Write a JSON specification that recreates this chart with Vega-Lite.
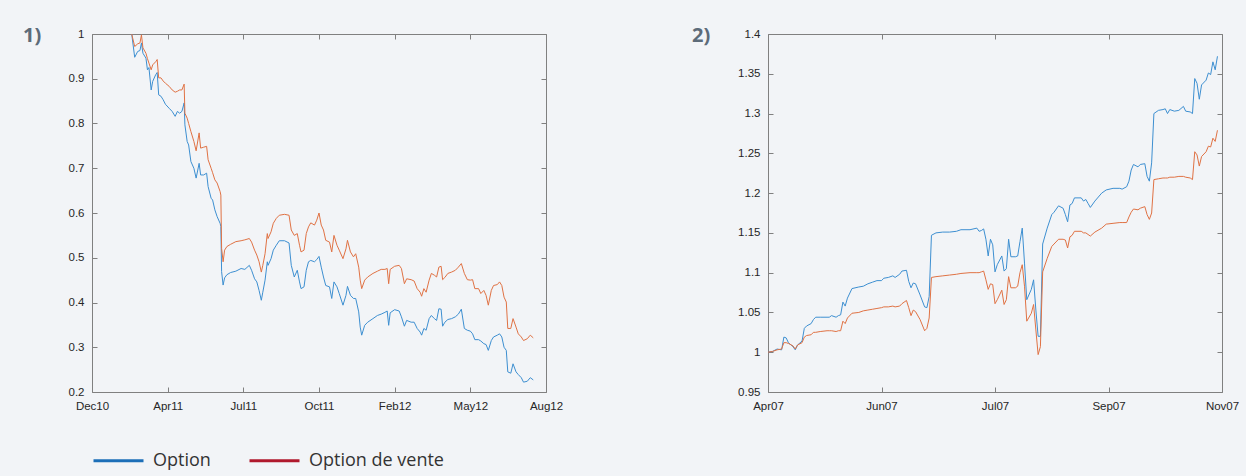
{
  "$schema": "https://vega.github.io/schema/vega-lite/v6.json",
  "background": "#f2f4f7",
  "padding": {"left": 23, "top": 26, "right": 8, "bottom": 7},
  "config": {
    "font": "Liberation Sans",
    "view": {"stroke": null},
    "axis": {
      "grid": false,
      "title": null,
      "domainColor": "#808080",
      "tickColor": "#808080",
      "domainWidth": 1,
      "tickWidth": 1,
      "tickSize": -5,
      "labelColor": "#262626",
      "labelFont": "Liberation Sans",
      "labelFontSize": 11.5,
      "labelFlush": false,
      "labelOverlap": false
    },
    "title": {"font": "Open Sans", "fontWeight": "bold", "fontSize": 20, "color": "#5d6b79"}
  },
  "datasets": {
    "gauche": [
      {"d": "2011-02-22", "Option": 1.000, "Option de vente": 1.000},
      {"d": "2011-02-26", "Option": 0.948, "Option de vente": 0.972},
      {"d": "2011-03-02", "Option": 0.961, "Option de vente": 0.978},
      {"d": "2011-03-05", "Option": 0.963, "Option de vente": 0.980},
      {"d": "2011-03-07", "Option": 0.980, "Option de vente": 0.998},
      {"d": "2011-03-09", "Option": 0.957, "Option de vente": 0.969},
      {"d": "2011-03-13", "Option": 0.946, "Option de vente": 0.957},
      {"d": "2011-03-15", "Option": 0.920, "Option de vente": 0.945},
      {"d": "2011-03-17", "Option": 0.925, "Option de vente": 0.935},
      {"d": "2011-03-20", "Option": 0.875, "Option de vente": 0.920},
      {"d": "2011-03-22", "Option": 0.894, "Option de vente": 0.931},
      {"d": "2011-03-26", "Option": 0.909, "Option de vente": 0.938},
      {"d": "2011-03-28", "Option": 0.914, "Option de vente": 0.943},
      {"d": "2011-03-30", "Option": 0.864, "Option de vente": 0.902},
      {"d": "2011-04-02", "Option": 0.861, "Option de vente": 0.902},
      {"d": "2011-04-05", "Option": 0.853, "Option de vente": 0.895},
      {"d": "2011-04-08", "Option": 0.843, "Option de vente": 0.890},
      {"d": "2011-04-13", "Option": 0.834, "Option de vente": 0.883},
      {"d": "2011-04-17", "Option": 0.827, "Option de vente": 0.875},
      {"d": "2011-04-21", "Option": 0.816, "Option de vente": 0.870},
      {"d": "2011-04-24", "Option": 0.827, "Option de vente": 0.872},
      {"d": "2011-04-27", "Option": 0.823, "Option de vente": 0.875},
      {"d": "2011-04-30", "Option": 0.827, "Option de vente": 0.875},
      {"d": "2011-05-03", "Option": 0.846, "Option de vente": 0.888},
      {"d": "2011-05-04", "Option": 0.797, "Option de vente": 0.823},
      {"d": "2011-05-07", "Option": 0.760, "Option de vente": 0.812},
      {"d": "2011-05-09", "Option": 0.752, "Option de vente": 0.800},
      {"d": "2011-05-12", "Option": 0.715, "Option de vente": 0.782},
      {"d": "2011-05-16", "Option": 0.700, "Option de vente": 0.760},
      {"d": "2011-05-19", "Option": 0.678, "Option de vente": 0.739},
      {"d": "2011-05-23", "Option": 0.711, "Option de vente": 0.779},
      {"d": "2011-05-25", "Option": 0.685, "Option de vente": 0.745},
      {"d": "2011-05-29", "Option": 0.685, "Option de vente": 0.747},
      {"d": "2011-06-02", "Option": 0.689, "Option de vente": 0.749},
      {"d": "2011-06-04", "Option": 0.659, "Option de vente": 0.719},
      {"d": "2011-06-08", "Option": 0.633, "Option de vente": 0.700},
      {"d": "2011-06-10", "Option": 0.629, "Option de vente": 0.690},
      {"d": "2011-06-13", "Option": 0.607, "Option de vente": 0.674},
      {"d": "2011-06-16", "Option": 0.592, "Option de vente": 0.667},
      {"d": "2011-06-20", "Option": 0.577, "Option de vente": 0.648},
      {"d": "2011-06-21", "Option": 0.570, "Option de vente": 0.640},
      {"d": "2011-06-22", "Option": 0.469, "Option de vente": 0.521},
      {"d": "2011-06-24", "Option": 0.439, "Option de vente": 0.491},
      {"d": "2011-06-26", "Option": 0.455, "Option de vente": 0.517},
      {"d": "2011-06-29", "Option": 0.462, "Option de vente": 0.525},
      {"d": "2011-07-04", "Option": 0.467, "Option de vente": 0.530},
      {"d": "2011-07-11", "Option": 0.470, "Option de vente": 0.536},
      {"d": "2011-07-18", "Option": 0.476, "Option de vente": 0.538},
      {"d": "2011-07-23", "Option": 0.474, "Option de vente": 0.540},
      {"d": "2011-07-29", "Option": 0.483, "Option de vente": 0.543},
      {"d": "2011-08-01", "Option": 0.472, "Option de vente": 0.535},
      {"d": "2011-08-05", "Option": 0.453, "Option de vente": 0.517},
      {"d": "2011-08-08", "Option": 0.446, "Option de vente": 0.506},
      {"d": "2011-08-11", "Option": 0.427, "Option de vente": 0.491},
      {"d": "2011-08-14", "Option": 0.405, "Option de vente": 0.468},
      {"d": "2011-08-16", "Option": 0.423, "Option de vente": 0.483},
      {"d": "2011-08-19", "Option": 0.450, "Option de vente": 0.509},
      {"d": "2011-08-22", "Option": 0.491, "Option de vente": 0.554},
      {"d": "2011-08-23", "Option": 0.483, "Option de vente": 0.543},
      {"d": "2011-08-27", "Option": 0.498, "Option de vente": 0.558},
      {"d": "2011-08-30", "Option": 0.517, "Option de vente": 0.577},
      {"d": "2011-09-03", "Option": 0.528, "Option de vente": 0.588},
      {"d": "2011-09-07", "Option": 0.538, "Option de vente": 0.595},
      {"d": "2011-09-14", "Option": 0.538, "Option de vente": 0.597},
      {"d": "2011-09-20", "Option": 0.533, "Option de vente": 0.595},
      {"d": "2011-09-23", "Option": 0.483, "Option de vente": 0.562},
      {"d": "2011-09-27", "Option": 0.457, "Option de vente": 0.550},
      {"d": "2011-10-01", "Option": 0.472, "Option de vente": 0.554},
      {"d": "2011-10-04", "Option": 0.446, "Option de vente": 0.528},
      {"d": "2011-10-06", "Option": 0.431, "Option de vente": 0.513},
      {"d": "2011-10-10", "Option": 0.435, "Option de vente": 0.517},
      {"d": "2011-10-13", "Option": 0.472, "Option de vente": 0.554},
      {"d": "2011-10-16", "Option": 0.491, "Option de vente": 0.569},
      {"d": "2011-10-19", "Option": 0.494, "Option de vente": 0.578},
      {"d": "2011-10-24", "Option": 0.491, "Option de vente": 0.573},
      {"d": "2011-10-27", "Option": 0.496, "Option de vente": 0.584},
      {"d": "2011-10-30", "Option": 0.503, "Option de vente": 0.600},
      {"d": "2011-11-02", "Option": 0.479, "Option de vente": 0.573},
      {"d": "2011-11-05", "Option": 0.457, "Option de vente": 0.562},
      {"d": "2011-11-08", "Option": 0.438, "Option de vente": 0.539},
      {"d": "2011-11-13", "Option": 0.435, "Option de vente": 0.535},
      {"d": "2011-11-16", "Option": 0.409, "Option de vente": 0.513},
      {"d": "2011-11-19", "Option": 0.446, "Option de vente": 0.550},
      {"d": "2011-11-23", "Option": 0.435, "Option de vente": 0.528},
      {"d": "2011-11-26", "Option": 0.420, "Option de vente": 0.517},
      {"d": "2011-12-01", "Option": 0.394, "Option de vente": 0.498},
      {"d": "2011-12-05", "Option": 0.416, "Option de vente": 0.520},
      {"d": "2011-12-07", "Option": 0.436, "Option de vente": 0.539},
      {"d": "2011-12-11", "Option": 0.416, "Option de vente": 0.513},
      {"d": "2011-12-15", "Option": 0.409, "Option de vente": 0.502},
      {"d": "2011-12-18", "Option": 0.409, "Option de vente": 0.509},
      {"d": "2011-12-22", "Option": 0.379, "Option de vente": 0.479},
      {"d": "2011-12-24", "Option": 0.345, "Option de vente": 0.450},
      {"d": "2011-12-26", "Option": 0.327, "Option de vente": 0.431},
      {"d": "2011-12-30", "Option": 0.349, "Option de vente": 0.450},
      {"d": "2012-01-03", "Option": 0.356, "Option de vente": 0.457},
      {"d": "2012-01-10", "Option": 0.364, "Option de vente": 0.465},
      {"d": "2012-01-16", "Option": 0.371, "Option de vente": 0.470},
      {"d": "2012-01-21", "Option": 0.374, "Option de vente": 0.474},
      {"d": "2012-01-26", "Option": 0.378, "Option de vente": 0.474},
      {"d": "2012-01-29", "Option": 0.381, "Option de vente": 0.476},
      {"d": "2012-01-31", "Option": 0.349, "Option de vente": 0.442},
      {"d": "2012-02-02", "Option": 0.377, "Option de vente": 0.474},
      {"d": "2012-02-08", "Option": 0.384, "Option de vente": 0.481},
      {"d": "2012-02-14", "Option": 0.381, "Option de vente": 0.483},
      {"d": "2012-02-17", "Option": 0.368, "Option de vente": 0.476},
      {"d": "2012-02-21", "Option": 0.347, "Option de vente": 0.442},
      {"d": "2012-02-24", "Option": 0.360, "Option de vente": 0.453},
      {"d": "2012-03-01", "Option": 0.356, "Option de vente": 0.451},
      {"d": "2012-03-05", "Option": 0.356, "Option de vente": 0.448},
      {"d": "2012-03-09", "Option": 0.342, "Option de vente": 0.431},
      {"d": "2012-03-13", "Option": 0.334, "Option de vente": 0.423},
      {"d": "2012-03-15", "Option": 0.327, "Option de vente": 0.414},
      {"d": "2012-03-18", "Option": 0.342, "Option de vente": 0.431},
      {"d": "2012-03-21", "Option": 0.338, "Option de vente": 0.423},
      {"d": "2012-03-25", "Option": 0.364, "Option de vente": 0.450},
      {"d": "2012-03-28", "Option": 0.371, "Option de vente": 0.465},
      {"d": "2012-04-01", "Option": 0.364, "Option de vente": 0.461},
      {"d": "2012-04-04", "Option": 0.360, "Option de vente": 0.457},
      {"d": "2012-04-07", "Option": 0.386, "Option de vente": 0.479},
      {"d": "2012-04-10", "Option": 0.385, "Option de vente": 0.481},
      {"d": "2012-04-12", "Option": 0.347, "Option de vente": 0.451},
      {"d": "2012-04-15", "Option": 0.356, "Option de vente": 0.456},
      {"d": "2012-04-19", "Option": 0.362, "Option de vente": 0.465},
      {"d": "2012-04-24", "Option": 0.364, "Option de vente": 0.468},
      {"d": "2012-04-29", "Option": 0.368, "Option de vente": 0.472},
      {"d": "2012-05-03", "Option": 0.374, "Option de vente": 0.479},
      {"d": "2012-05-07", "Option": 0.385, "Option de vente": 0.487},
      {"d": "2012-05-11", "Option": 0.342, "Option de vente": 0.465},
      {"d": "2012-05-15", "Option": 0.338, "Option de vente": 0.451},
      {"d": "2012-05-19", "Option": 0.336, "Option de vente": 0.450},
      {"d": "2012-05-22", "Option": 0.330, "Option de vente": 0.451},
      {"d": "2012-05-25", "Option": 0.317, "Option de vente": 0.431},
      {"d": "2012-05-30", "Option": 0.317, "Option de vente": 0.431},
      {"d": "2012-06-02", "Option": 0.314, "Option de vente": 0.420},
      {"d": "2012-06-06", "Option": 0.308, "Option de vente": 0.427},
      {"d": "2012-06-09", "Option": 0.306, "Option de vente": 0.416},
      {"d": "2012-06-12", "Option": 0.293, "Option de vente": 0.394},
      {"d": "2012-06-16", "Option": 0.315, "Option de vente": 0.427},
      {"d": "2012-06-19", "Option": 0.323, "Option de vente": 0.438},
      {"d": "2012-06-24", "Option": 0.327, "Option de vente": 0.440},
      {"d": "2012-06-27", "Option": 0.330, "Option de vente": 0.446},
      {"d": "2012-06-30", "Option": 0.323, "Option de vente": 0.438},
      {"d": "2012-07-03", "Option": 0.300, "Option de vente": 0.412},
      {"d": "2012-07-06", "Option": 0.293, "Option de vente": 0.401},
      {"d": "2012-07-08", "Option": 0.245, "Option de vente": 0.342},
      {"d": "2012-07-12", "Option": 0.242, "Option de vente": 0.342},
      {"d": "2012-07-15", "Option": 0.263, "Option de vente": 0.364},
      {"d": "2012-07-19", "Option": 0.245, "Option de vente": 0.345},
      {"d": "2012-07-22", "Option": 0.239, "Option de vente": 0.330},
      {"d": "2012-07-26", "Option": 0.232, "Option de vente": 0.323},
      {"d": "2012-07-29", "Option": 0.222, "Option de vente": 0.315},
      {"d": "2012-08-03", "Option": 0.224, "Option de vente": 0.319},
      {"d": "2012-08-07", "Option": 0.232, "Option de vente": 0.327},
      {"d": "2012-08-11", "Option": 0.227, "Option de vente": 0.321}
    ],
    "droite": [
      {"d": "2007-04-18", "Option": 1.000, "Option de vente": 1.000},
      {"d": "2007-04-20", "Option": 1.001, "Option de vente": 1.001},
      {"d": "2007-04-22", "Option": 1.004, "Option de vente": 1.003},
      {"d": "2007-04-24", "Option": 1.003, "Option de vente": 1.004},
      {"d": "2007-04-25", "Option": 1.019, "Option de vente": 1.012},
      {"d": "2007-04-26", "Option": 1.018, "Option de vente": 1.012},
      {"d": "2007-04-27", "Option": 1.012, "Option de vente": 1.011},
      {"d": "2007-04-29", "Option": 1.007, "Option de vente": 1.008},
      {"d": "2007-04-30", "Option": 1.003, "Option de vente": 1.004},
      {"d": "2007-05-01", "Option": 1.009, "Option de vente": 1.009},
      {"d": "2007-05-03", "Option": 1.014, "Option de vente": 1.012},
      {"d": "2007-05-04", "Option": 1.030, "Option de vente": 1.019},
      {"d": "2007-05-05", "Option": 1.033, "Option de vente": 1.021},
      {"d": "2007-05-07", "Option": 1.036, "Option de vente": 1.022},
      {"d": "2007-05-08", "Option": 1.041, "Option de vente": 1.025},
      {"d": "2007-05-09", "Option": 1.044, "Option de vente": 1.025},
      {"d": "2007-05-11", "Option": 1.044, "Option de vente": 1.026},
      {"d": "2007-05-14", "Option": 1.044, "Option de vente": 1.027},
      {"d": "2007-05-15", "Option": 1.044, "Option de vente": 1.027},
      {"d": "2007-05-16", "Option": 1.046, "Option de vente": 1.027},
      {"d": "2007-05-18", "Option": 1.044, "Option de vente": 1.026},
      {"d": "2007-05-19", "Option": 1.046, "Option de vente": 1.027},
      {"d": "2007-05-20", "Option": 1.047, "Option de vente": 1.027},
      {"d": "2007-05-21", "Option": 1.063, "Option de vente": 1.039},
      {"d": "2007-05-22", "Option": 1.058, "Option de vente": 1.036},
      {"d": "2007-05-23", "Option": 1.068, "Option de vente": 1.043},
      {"d": "2007-05-25", "Option": 1.080, "Option de vente": 1.049},
      {"d": "2007-05-28", "Option": 1.082, "Option de vente": 1.050},
      {"d": "2007-05-30", "Option": 1.083, "Option de vente": 1.052},
      {"d": "2007-06-01", "Option": 1.086, "Option de vente": 1.053},
      {"d": "2007-06-03", "Option": 1.088, "Option de vente": 1.054},
      {"d": "2007-06-05", "Option": 1.090, "Option de vente": 1.055},
      {"d": "2007-06-07", "Option": 1.090, "Option de vente": 1.056},
      {"d": "2007-06-08", "Option": 1.093, "Option de vente": 1.057},
      {"d": "2007-06-10", "Option": 1.094, "Option de vente": 1.057},
      {"d": "2007-06-12", "Option": 1.096, "Option de vente": 1.058},
      {"d": "2007-06-13", "Option": 1.094, "Option de vente": 1.057},
      {"d": "2007-06-15", "Option": 1.098, "Option de vente": 1.058},
      {"d": "2007-06-16", "Option": 1.102, "Option de vente": 1.061},
      {"d": "2007-06-18", "Option": 1.103, "Option de vente": 1.065},
      {"d": "2007-06-19", "Option": 1.089, "Option de vente": 1.056},
      {"d": "2007-06-20", "Option": 1.081, "Option de vente": 1.046},
      {"d": "2007-06-21", "Option": 1.087, "Option de vente": 1.053},
      {"d": "2007-06-22", "Option": 1.086, "Option de vente": 1.051},
      {"d": "2007-06-24", "Option": 1.072, "Option de vente": 1.041},
      {"d": "2007-06-26", "Option": 1.057, "Option de vente": 1.027},
      {"d": "2007-06-27", "Option": 1.056, "Option de vente": 1.030},
      {"d": "2007-06-28", "Option": 1.070, "Option de vente": 1.043},
      {"d": "2007-06-29", "Option": 1.147, "Option de vente": 1.094},
      {"d": "2007-07-01", "Option": 1.150, "Option de vente": 1.095},
      {"d": "2007-07-04", "Option": 1.151, "Option de vente": 1.096},
      {"d": "2007-07-07", "Option": 1.151, "Option de vente": 1.097},
      {"d": "2007-07-10", "Option": 1.152, "Option de vente": 1.098},
      {"d": "2007-07-12", "Option": 1.154, "Option de vente": 1.099},
      {"d": "2007-07-16", "Option": 1.154, "Option de vente": 1.100},
      {"d": "2007-07-19", "Option": 1.156, "Option de vente": 1.100},
      {"d": "2007-07-20", "Option": 1.152, "Option de vente": 1.100},
      {"d": "2007-07-21", "Option": 1.153, "Option de vente": 1.101},
      {"d": "2007-07-22", "Option": 1.155, "Option de vente": 1.102},
      {"d": "2007-07-23", "Option": 1.142, "Option de vente": 1.091},
      {"d": "2007-07-24", "Option": 1.121, "Option de vente": 1.079},
      {"d": "2007-07-25", "Option": 1.142, "Option de vente": 1.086},
      {"d": "2007-07-26", "Option": 1.135, "Option de vente": 1.085},
      {"d": "2007-07-27", "Option": 1.101, "Option de vente": 1.061},
      {"d": "2007-07-28", "Option": 1.110, "Option de vente": 1.066},
      {"d": "2007-07-30", "Option": 1.121, "Option de vente": 1.078},
      {"d": "2007-07-31", "Option": 1.102, "Option de vente": 1.060},
      {"d": "2007-08-01", "Option": 1.105, "Option de vente": 1.066},
      {"d": "2007-08-02", "Option": 1.142, "Option de vente": 1.095},
      {"d": "2007-08-03", "Option": 1.120, "Option de vente": 1.081},
      {"d": "2007-08-05", "Option": 1.120, "Option de vente": 1.081},
      {"d": "2007-08-06", "Option": 1.121, "Option de vente": 1.083},
      {"d": "2007-08-07", "Option": 1.139, "Option de vente": 1.100},
      {"d": "2007-08-08", "Option": 1.156, "Option de vente": 1.110},
      {"d": "2007-08-09", "Option": 1.112, "Option de vente": 1.083},
      {"d": "2007-08-10", "Option": 1.066, "Option de vente": 1.039},
      {"d": "2007-08-12", "Option": 1.079, "Option de vente": 1.049},
      {"d": "2007-08-13", "Option": 1.091, "Option de vente": 1.060},
      {"d": "2007-08-14", "Option": 1.053, "Option de vente": 1.028},
      {"d": "2007-08-15", "Option": 1.020, "Option de vente": 0.997},
      {"d": "2007-08-16", "Option": 1.020, "Option de vente": 1.007},
      {"d": "2007-08-17", "Option": 1.136, "Option de vente": 1.101},
      {"d": "2007-08-19", "Option": 1.156, "Option de vente": 1.118},
      {"d": "2007-08-21", "Option": 1.173, "Option de vente": 1.133},
      {"d": "2007-08-22", "Option": 1.176, "Option de vente": 1.136},
      {"d": "2007-08-24", "Option": 1.184, "Option de vente": 1.142},
      {"d": "2007-08-26", "Option": 1.181, "Option de vente": 1.142},
      {"d": "2007-08-27", "Option": 1.173, "Option de vente": 1.141},
      {"d": "2007-08-28", "Option": 1.164, "Option de vente": 1.131},
      {"d": "2007-08-29", "Option": 1.185, "Option de vente": 1.145},
      {"d": "2007-08-30", "Option": 1.187, "Option de vente": 1.147},
      {"d": "2007-08-31", "Option": 1.194, "Option de vente": 1.152},
      {"d": "2007-09-03", "Option": 1.194, "Option de vente": 1.152},
      {"d": "2007-09-04", "Option": 1.190, "Option de vente": 1.150},
      {"d": "2007-09-05", "Option": 1.192, "Option de vente": 1.150},
      {"d": "2007-09-06", "Option": 1.187, "Option de vente": 1.148},
      {"d": "2007-09-07", "Option": 1.182, "Option de vente": 1.146},
      {"d": "2007-09-09", "Option": 1.190, "Option de vente": 1.151},
      {"d": "2007-09-12", "Option": 1.200, "Option de vente": 1.156},
      {"d": "2007-09-14", "Option": 1.204, "Option de vente": 1.161},
      {"d": "2007-09-17", "Option": 1.206, "Option de vente": 1.162},
      {"d": "2007-09-20", "Option": 1.206, "Option de vente": 1.163},
      {"d": "2007-09-21", "Option": 1.205, "Option de vente": 1.163},
      {"d": "2007-09-23", "Option": 1.208, "Option de vente": 1.163},
      {"d": "2007-09-24", "Option": 1.215, "Option de vente": 1.170},
      {"d": "2007-09-25", "Option": 1.229, "Option de vente": 1.176},
      {"d": "2007-09-26", "Option": 1.236, "Option de vente": 1.180},
      {"d": "2007-09-28", "Option": 1.233, "Option de vente": 1.179},
      {"d": "2007-09-29", "Option": 1.236, "Option de vente": 1.181},
      {"d": "2007-10-01", "Option": 1.237, "Option de vente": 1.183},
      {"d": "2007-10-02", "Option": 1.221, "Option de vente": 1.173},
      {"d": "2007-10-03", "Option": 1.215, "Option de vente": 1.167},
      {"d": "2007-10-04", "Option": 1.238, "Option de vente": 1.175},
      {"d": "2007-10-05", "Option": 1.300, "Option de vente": 1.217},
      {"d": "2007-10-07", "Option": 1.304, "Option de vente": 1.218},
      {"d": "2007-10-09", "Option": 1.305, "Option de vente": 1.219},
      {"d": "2007-10-10", "Option": 1.306, "Option de vente": 1.219},
      {"d": "2007-10-11", "Option": 1.300, "Option de vente": 1.219},
      {"d": "2007-10-12", "Option": 1.305, "Option de vente": 1.220},
      {"d": "2007-10-14", "Option": 1.303, "Option de vente": 1.220},
      {"d": "2007-10-16", "Option": 1.304, "Option de vente": 1.221},
      {"d": "2007-10-18", "Option": 1.309, "Option de vente": 1.221},
      {"d": "2007-10-19", "Option": 1.303, "Option de vente": 1.220},
      {"d": "2007-10-21", "Option": 1.302, "Option de vente": 1.219},
      {"d": "2007-10-22", "Option": 1.300, "Option de vente": 1.217},
      {"d": "2007-10-23", "Option": 1.344, "Option de vente": 1.252},
      {"d": "2007-10-24", "Option": 1.338, "Option de vente": 1.248},
      {"d": "2007-10-25", "Option": 1.318, "Option de vente": 1.234},
      {"d": "2007-10-26", "Option": 1.336, "Option de vente": 1.246},
      {"d": "2007-10-28", "Option": 1.342, "Option de vente": 1.252},
      {"d": "2007-10-29", "Option": 1.351, "Option de vente": 1.259},
      {"d": "2007-10-30", "Option": 1.349, "Option de vente": 1.258},
      {"d": "2007-10-31", "Option": 1.365, "Option de vente": 1.269},
      {"d": "2007-11-01", "Option": 1.355, "Option de vente": 1.265},
      {"d": "2007-11-02", "Option": 1.372, "Option de vente": 1.279}
    ]
  },
  "bounds": "flush",
  "spacing": 222,
  "resolve": {
    "scale": {"x": "independent", "y": "independent", "color": "shared"},
    "legend": {"color": "shared"}
  },
  "hconcat": [
    {
      "width": 454,
      "height": 358,
      "title": {"text": "1)", "orient": "top", "anchor": "start", "frame": "group", "baseline": "top", "align": "left", "offset": 7, "dx": -69, "dy": 25},
      "data": {"name": "gauche"},
      "transform": [{"fold": ["Option", "Option de vente"], "as": ["serie", "valeur"]}],
      "resolve": {"axis": {"x": "independent", "y": "independent"}},
      "layer": [
        {
          "transform": [{"filter": "datum.serie === 'Option'"}],
          "mark": {"type": "line", "strokeWidth": 1, "stroke": "#3d8fd1"},
          "encoding": {
            "x": {
              "field": "d", "type": "temporal",
              "scale": {"type": "utc", "nice": false, "domain": [{"year": 2010, "month": 12, "date": 31, "utc": true}, {"year": 2012, "month": 8, "date": 28, "utc": true}]},
              "axis": {
                "orient": "bottom", "format": "%b%y", "labelPadding": 13,
                "values": [
                  {"year": 2010, "month": 12, "date": 31, "utc": true},
                  {"year": 2011, "month": 4, "date": 11, "utc": true},
                  {"year": 2011, "month": 7, "date": 21, "utc": true},
                  {"year": 2011, "month": 10, "date": 30, "utc": true},
                  {"year": 2012, "month": 2, "date": 8, "utc": true},
                  {"year": 2012, "month": 5, "date": 19, "utc": true},
                  {"year": 2012, "month": 8, "date": 28, "utc": true}
                ]
              }
            },
            "y": {
              "field": "valeur", "type": "quantitative",
              "scale": {"domain": [0.2, 1], "nice": false, "zero": false},
              "axis": {"orient": "left", "format": "~g", "labelPadding": 13, "values": [0.2, 0.3, 0.4, 0.5, 0.6, 0.7, 0.8, 0.9, 1]}
            }
          }
        },
        {
          "transform": [{"filter": "datum.serie === 'Option de vente'"}],
          "mark": {"type": "line", "strokeWidth": 1, "stroke": "#e07244"},
          "encoding": {
            "x": {"field": "d", "type": "temporal", "axis": null},
            "y": {"field": "valeur", "type": "quantitative", "axis": null}
          }
        },
        {
          "mark": {"type": "line", "opacity": 0},
          "encoding": {
            "x": {
              "field": "d", "type": "temporal",
              "axis": {
                "orient": "top", "labels": false,
                "values": [
                  {"year": 2010, "month": 12, "date": 31, "utc": true},
                  {"year": 2011, "month": 4, "date": 11, "utc": true},
                  {"year": 2011, "month": 7, "date": 21, "utc": true},
                  {"year": 2011, "month": 10, "date": 30, "utc": true},
                  {"year": 2012, "month": 2, "date": 8, "utc": true},
                  {"year": 2012, "month": 5, "date": 19, "utc": true},
                  {"year": 2012, "month": 8, "date": 28, "utc": true}
                ]
              }
            },
            "y": {
              "field": "valeur", "type": "quantitative",
              "axis": {"orient": "right", "labels": false, "values": [0.2, 0.3, 0.4, 0.5, 0.6, 0.7, 0.8, 0.9, 1]}
            },
            "detail": {"field": "serie"}
          }
        },
        {
          "transform": [{"filter": "false"}],
          "mark": {"type": "line", "strokeWidth": 3},
          "encoding": {
            "x": {"field": "d", "type": "temporal", "axis": null},
            "y": {"field": "valeur", "type": "quantitative", "axis": null},
            "color": {
              "field": "serie", "type": "nominal",
              "scale": {"domain": ["Option", "Option de vente"], "range": ["#1d6fb8", "#b0192d"]},
              "legend": {
                "title": null,
                "orient": "none",
                "legendX": 0,
                "legendY": 400,
                "direction": "horizontal",
                "padding": 0,
                "symbolType": "stroke",
                "symbolSize": 2500,
                "symbolStrokeWidth": 3,
                "labelFont": "Open Sans",
                "labelFontSize": 18,
                "labelColor": "#333333",
                "labelOffset": 8,
                "columnPadding": 32
              }
            }
          }
        }
      ]
    },
    {
      "width": 454,
      "height": 358,
      "title": {"text": "2)", "orient": "top", "anchor": "start", "frame": "group", "baseline": "top", "align": "left", "offset": 7, "dx": -76, "dy": 25},
      "data": {"name": "droite"},
      "transform": [{"fold": ["Option", "Option de vente"], "as": ["serie", "valeur"]}],
      "resolve": {"axis": {"x": "independent", "y": "independent"}},
      "layer": [
        {
          "transform": [{"filter": "datum.serie === 'Option'"}],
          "mark": {"type": "line", "strokeWidth": 1, "stroke": "#3d8fd1"},
          "encoding": {
            "x": {
              "field": "d", "type": "temporal",
              "scale": {"type": "utc", "nice": false, "domain": [{"year": 2007, "month": 4, "date": 18, "utc": true}, {"year": 2007, "month": 11, "date": 4, "utc": true}]},
              "axis": {
                "orient": "bottom", "format": "%b%y", "labelPadding": 13,
                "values": [
                  {"year": 2007, "month": 4, "date": 18, "utc": true},
                  {"year": 2007, "month": 6, "date": 7, "utc": true},
                  {"year": 2007, "month": 7, "date": 27, "utc": true},
                  {"year": 2007, "month": 9, "date": 15, "utc": true},
                  {"year": 2007, "month": 11, "date": 4, "utc": true}
                ]
              }
            },
            "y": {
              "field": "valeur", "type": "quantitative",
              "scale": {"domain": [0.95, 1.4], "nice": false, "zero": false},
              "axis": {"orient": "left", "format": "~g", "labelPadding": 13, "values": [0.95, 1, 1.05, 1.1, 1.15, 1.2, 1.25, 1.3, 1.35, 1.4]}
            }
          }
        },
        {
          "transform": [{"filter": "datum.serie === 'Option de vente'"}],
          "mark": {"type": "line", "strokeWidth": 1, "stroke": "#e07244"},
          "encoding": {
            "x": {"field": "d", "type": "temporal", "axis": null},
            "y": {"field": "valeur", "type": "quantitative", "axis": null}
          }
        },
        {
          "mark": {"type": "line", "opacity": 0},
          "encoding": {
            "x": {
              "field": "d", "type": "temporal",
              "axis": {
                "orient": "top", "labels": false,
                "values": [
                  {"year": 2007, "month": 4, "date": 18, "utc": true},
                  {"year": 2007, "month": 6, "date": 7, "utc": true},
                  {"year": 2007, "month": 7, "date": 27, "utc": true},
                  {"year": 2007, "month": 9, "date": 15, "utc": true},
                  {"year": 2007, "month": 11, "date": 4, "utc": true}
                ]
              }
            },
            "y": {
              "field": "valeur", "type": "quantitative",
              "axis": {"orient": "right", "labels": false, "values": [0.95, 1, 1.05, 1.1, 1.15, 1.2, 1.25, 1.3, 1.35, 1.4]}
            },
            "detail": {"field": "serie"}
          }
        }
      ]
    }
  ]
}
